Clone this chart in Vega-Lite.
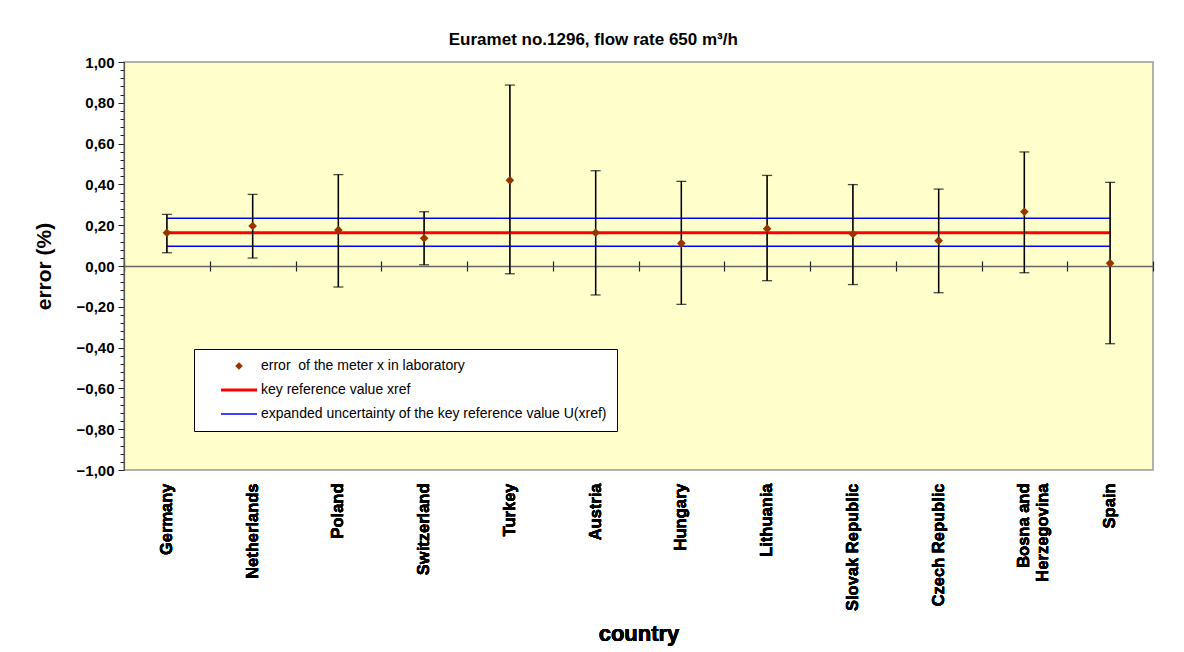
{
  "$schema": "https://vega.github.io/schema/vega-lite/v6.json",
  "width": 1029,
  "height": 408,
  "autosize": {"type": "none"},
  "padding": {"left": 124, "top": 62, "right": 31, "bottom": 182},
  "background": "white",
  "title": {
    "text": "Euramet no.1296, flow rate 650 m³/h",
    "font": "Liberation Sans",
    "fontSize": 17,
    "fontWeight": "bold",
    "color": "black",
    "anchor": "middle",
    "frame": "bounds",
    "offset": 6
  },
  "data": {
    "values": [
      {"country": "Germany", "err": 0.163, "lo": 0.065, "hi": 0.253, "xref": 0.163, "uLo": 0.097, "uHi": 0.234},
      {"country": "Netherlands", "err": 0.196, "lo": 0.039, "hi": 0.351, "xref": 0.163, "uLo": 0.097, "uHi": 0.234},
      {"country": "Poland", "err": 0.176, "lo": -0.103, "hi": 0.448, "xref": 0.163, "uLo": 0.097, "uHi": 0.234},
      {"country": "Switzerland", "err": 0.136, "lo": 0.006, "hi": 0.266, "xref": 0.163, "uLo": 0.097, "uHi": 0.234},
      {"country": "Turkey", "err": 0.42, "lo": -0.038, "hi": 0.887, "xref": 0.163, "uLo": 0.097, "uHi": 0.234},
      {"country": "Austria", "err": 0.163, "lo": -0.142, "hi": 0.467, "xref": 0.163, "uLo": 0.097, "uHi": 0.234},
      {"country": "Hungary", "err": 0.111, "lo": -0.188, "hi": 0.415, "xref": 0.163, "uLo": 0.097, "uHi": 0.234},
      {"country": "Lithuania", "err": 0.183, "lo": -0.072, "hi": 0.444, "xref": 0.163, "uLo": 0.097, "uHi": 0.234},
      {"country": "Slovak Republic", "err": 0.157, "lo": -0.091, "hi": 0.399, "xref": 0.163, "uLo": 0.097, "uHi": 0.234},
      {"country": "Czech Republic", "err": 0.124, "lo": -0.131, "hi": 0.377, "xref": 0.163, "uLo": 0.097, "uHi": 0.234},
      {"country": "Bosna and Herzegovina", "err": 0.266, "lo": -0.033, "hi": 0.559, "xref": 0.163, "uLo": 0.097, "uHi": 0.234},
      {"country": "Spain", "err": 0.013, "lo": -0.381, "hi": 0.41, "xref": 0.163, "uLo": 0.097, "uHi": 0.234}
    ]
  },
  "encoding": {
    "x": {
      "field": "country",
      "type": "nominal",
      "sort": null,
      "scale": {"paddingInner": 0, "paddingOuter": 0},
      "axis": {
        "orient": "bottom",
        "title": "country",
        "titleFont": "Liberation Sans",
        "titleFontSize": 22,
        "titleFontWeight": "bold",
        "titleColor": "black",
        "titlePadding": 13,
        "labelAngle": -90,
        "labelFont": "Liberation Sans",
        "labelFontSize": 16.5,
        "labelFontWeight": "bold",
        "labelColor": "black",
        "labelPadding": 13,
        "labelLimit": 200,
        "labelExpr": "datum.label == 'Bosna and Herzegovina' ? ['Bosna and', 'Herzegovina'] : datum.label",
        "ticks": false,
        "domain": false,
        "grid": false
      }
    }
  },
  "layer": [
    {
      "mark": {"type": "rule", "color": "#555555", "strokeWidth": 1.5},
      "encoding": {
        "x": {
          "field": "country",
          "type": "nominal",
          "sort": null,
          "axis": {
            "orient": "bottom",
            "offset": -204,
            "labels": false,
            "title": null,
            "ticks": true,
            "tickBand": "extent",
            "tickSize": 5,
            "tickColor": "#222222",
            "tickWidth": 1.2,
            "domain": true,
            "domainColor": "#666666",
            "domainWidth": 1.5,
            "grid": false
          }
        },
        "y": {
          "field": "lo",
          "type": "quantitative",
          "scale": {"domain": [-1, 1], "nice": false, "zero": false},
          "axis": {
            "title": "error (%)",
            "titleFont": "Liberation Sans",
            "titleFontSize": 21,
            "titleFontWeight": "bold",
            "titleColor": "black",
            "titlePadding": 22,
            "tickCount": 100,
            "values": [-1, -0.96, -0.92, -0.88, -0.84, -0.8, -0.76, -0.72, -0.68, -0.64, -0.6, -0.56, -0.52, -0.48, -0.44, -0.4, -0.36, -0.32, -0.28, -0.24, -0.2, -0.16, -0.12, -0.08, -0.04, 0, 0.04, 0.08, 0.12, 0.16, 0.2, 0.24, 0.28, 0.32, 0.36, 0.4, 0.44, 0.48, 0.52, 0.56, 0.6, 0.64, 0.68, 0.72, 0.76, 0.8, 0.84, 0.88, 0.92, 0.96, 1],
            "labelExpr": "abs(datum.value * 5 - round(datum.value * 5)) < 0.001 ? replace(format(datum.value, '.2f'), '.', ',') : ''",
            "labelFont": "Liberation Sans",
            "labelFontSize": 15,
            "labelFontWeight": "bold",
            "labelColor": "black",
            "labelPadding": 4,
            "labelOverlap": false,
            "labelBound": false,
            "tickSize": {"condition": {"test": "abs(datum.value * 5 - round(datum.value * 5)) < 0.001", "value": 6}, "value": 4},
            "tickColor": "#222222",
            "domainColor": "#555555",
            "domainWidth": 1.2,
            "grid": false
          }
        },
        "y2": {"field": "hi"}
      }
    },
    {
      "mark": {"type": "line", "color": "#0000FF", "strokeWidth": 1.5},
      "encoding": {
        "x": {
          "field": "country",
          "type": "nominal",
          "sort": null,
          "axis": {
            "orient": "top",
            "offset": -204,
            "labels": false,
            "title": null,
            "ticks": true,
            "tickBand": "extent",
            "tickSize": 5,
            "tickColor": "#222222",
            "tickWidth": 1.2,
            "domain": false,
            "grid": false
          }
        },
        "y": {"field": "uHi", "type": "quantitative"},
        "color": {
          "datum": "expanded uncertainty of the key reference value U(xref)",
          "scale": {
            "domain": ["error\u00a0 of the meter x in laboratory", "key reference value xref", "expanded uncertainty of the key reference value U(xref)"],
            "range": ["#993300", "#FF0000", "#0000FF"]
          },
          "legend": {
            "title": null,
            "orient": "none",
            "legendX": 70,
            "legendY": 287,
            "direction": "vertical",
            "fillColor": "white",
            "strokeColor": "black",
            "padding": 10,
            "rowPadding": 10,
            "labelFont": "Liberation Sans",
            "labelFontSize": 14,
            "labelColor": "black",
            "labelLimit": 600,
            "labelOffset": 15,
            "symbolOffset": 28,
            "symbolType": "stroke",
            "symbolSize": 1300,
            "encode": {
              "symbols": {
                "update": {
                  "shape": {"signal": "test(/laboratory/, datum.value) ? 'diamond' : 'stroke'"},
                  "size": {"signal": "test(/laboratory/, datum.value) ? 60 : 1300"},
                  "fill": {"signal": "test(/laboratory/, datum.value) ? '#993300' : 'transparent'"},
                  "stroke": {"signal": "test(/laboratory/, datum.value) ? '#993300' : (datum.value == 'key reference value xref' ? '#FF0000' : '#0000FF')"},
                  "strokeWidth": {"signal": "test(/laboratory/, datum.value) ? 0 : (datum.value == 'key reference value xref' ? 3 : 1.5)"},
                  "opacity": {"value": 1}
                }
              }
            }
          }
        }
      }
    },
    {
      "mark": {"type": "line", "color": "#0000FF", "strokeWidth": 1.5},
      "encoding": {
        "y": {"field": "uLo", "type": "quantitative"},
        "color": {"datum": "expanded uncertainty of the key reference value U(xref)"}
      }
    },
    {
      "mark": {"type": "line", "strokeWidth": 3},
      "encoding": {
        "y": {"field": "xref", "type": "quantitative"},
        "color": {"datum": "key reference value xref"}
      }
    },
    {
      "mark": {"type": "rule", "color": "black", "strokeWidth": 1.3},
      "encoding": {
        "y": {"field": "lo", "type": "quantitative"},
        "y2": {"field": "hi"}
      }
    },
    {
      "mark": {"type": "tick", "color": "black", "thickness": 1.3, "size": 10, "orient": "horizontal"},
      "encoding": {"y": {"field": "hi", "type": "quantitative"}}
    },
    {
      "mark": {"type": "tick", "color": "black", "thickness": 1.3, "size": 10, "orient": "horizontal"},
      "encoding": {"y": {"field": "lo", "type": "quantitative"}}
    },
    {
      "mark": {"type": "point", "filled": true, "size": 75, "opacity": 1, "shape": "diamond"},
      "encoding": {
        "y": {"field": "err", "type": "quantitative"},
        "color": {"datum": "error\u00a0 of the meter x in laboratory"}
      }
    }
  ],
  "resolve": {"axis": {"x": "independent"}},
  "config": {
    "view": {"fill": "#FFFFCC", "stroke": "#999999", "strokeWidth": 1.5},
    "font": "Liberation Sans"
  }
}
